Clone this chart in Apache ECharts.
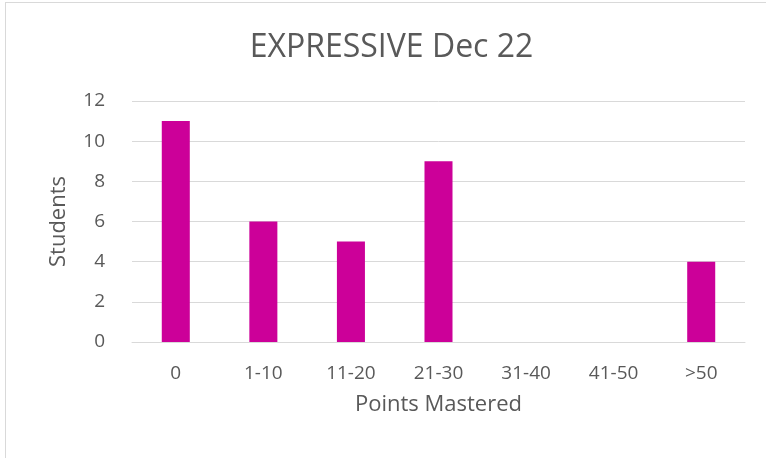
<!DOCTYPE html>
<html>
<head>
<meta charset="utf-8">
<script src="https://cdn.jsdelivr.net/npm/echarts@6/dist/echarts.min.js"></script>
<style>
  html, body { margin: 0; padding: 0; background: #fff; }
  #chart { width: 766px; height: 458px; position: relative; }
  #frame { position: absolute; left: 5px; top: 2px; width: 800px; height: 500px;
           border: 1px solid #d9d9d9; box-sizing: border-box; pointer-events: none; }
</style>
</head>
<body>
<div id="chart"></div>
<div id="frame"></div>
<script>
// Students by points mastered
const categories = ['0', '1-10', '11-20', '21-30', '31-40', '41-50', '>50'];
const students = [11, 6, 5, 9, 0, 0, 4];
const yTicks = { min: 0, max: 12, interval: 2 };
const titleText = 'EXPRESSIVE Dec 22';

const FONT = '"Open Sans", "Liberation Sans", sans-serif';
const TEXT = '#595959';
const chart = echarts.init(document.getElementById('chart'), null, { renderer: 'canvas' });
chart.setOption({
  backgroundColor: '#ffffff',
  animation: false,
  graphic: [{
    type: 'text',
    x: 391.5,
    y: 48,
    style: {
      text: titleText,
      fontFamily: FONT,
      fontSize: 32,
      fill: TEXT,
      textAlign: 'center',
      textVerticalAlign: 'middle'
    }
  }],
  grid: { left: 132, right: 21, top: 101, bottom: 116 },
  xAxis: {
    type: 'category',
    data: categories,
    name: 'Points Mastered',
    nameLocation: 'middle',
    nameGap: 52,
    nameTextStyle: { fontFamily: FONT, fontSize: 22, color: TEXT },
    axisLine: { show: true, lineStyle: { color: '#d9d9d9', width: 1 } },
    axisTick: { show: false },
    axisLabel: { fontFamily: FONT, fontSize: 19, color: TEXT, margin: 22 }
  },
  yAxis: {
    type: 'value',
    min: yTicks.min,
    max: yTicks.max,
    interval: yTicks.interval,
    name: 'Students',
    nameLocation: 'middle',
    nameGap: 62,
    nameTextStyle: { fontFamily: FONT, fontSize: 22, color: TEXT },
    axisLine: { show: false },
    axisTick: { show: false },
    axisLabel: { fontFamily: FONT, fontSize: 19, color: TEXT, margin: 27 },
    splitLine: { lineStyle: { color: '#d9d9d9', width: 1 } }
  },
  series: [{
    type: 'bar',
    data: students,
    barWidth: '32%',
    itemStyle: { color: '#cc0099' }
  }]
});
</script>
</body>
</html>
